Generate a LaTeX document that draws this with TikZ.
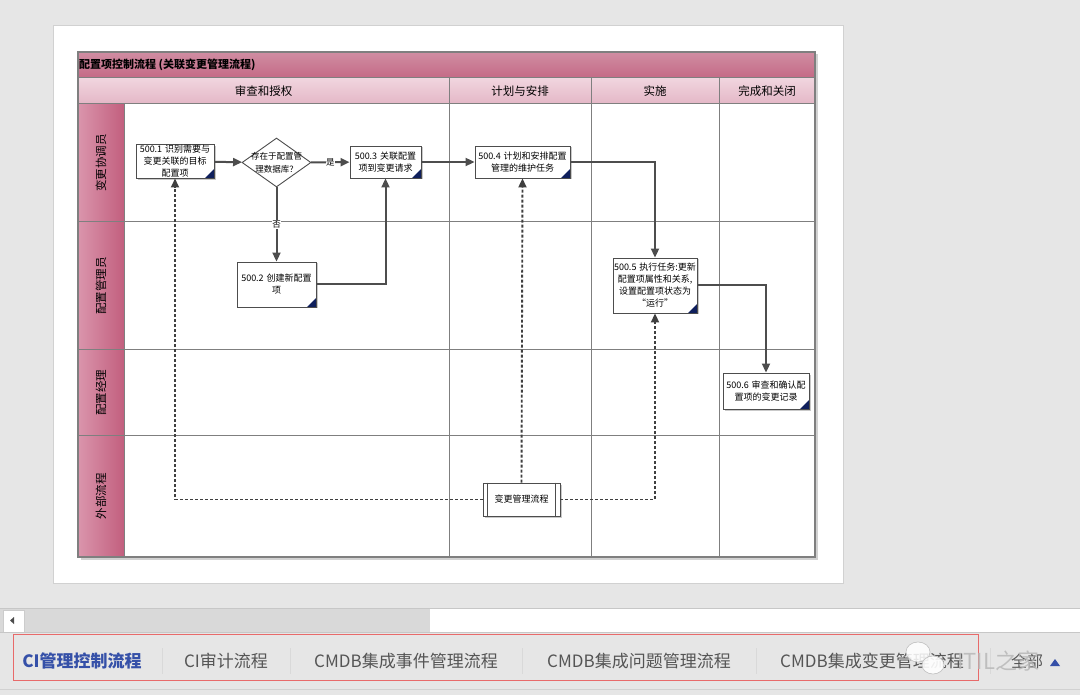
\documentclass[tikz,border=0pt]{standalone}
\usepackage{fontspec}
\setmainfont{Noto Sans CJK SC}
\usetikzlibrary{arrows.meta,shapes.geometric,shadows}
\definecolor{bgui}{HTML}{E6E6E6}
\definecolor{titletop}{HTML}{D08DA2}
\definecolor{titlebot}{HTML}{C46A86}
\definecolor{hdrtop}{HTML}{F1D5DF}
\definecolor{hdrbot}{HTML}{E4B7C6}
\definecolor{lanel}{HTML}{DA95AC}
\definecolor{laner}{HTML}{C25F7E}
\definecolor{gridc}{HTML}{7F7F7F}
\definecolor{linec}{HTML}{4D4D4D}
\definecolor{dashc}{HTML}{3F3F3F}
\definecolor{navy}{HTML}{0F1F5C}
\definecolor{tabtxt}{HTML}{555555}
\definecolor{tabsel}{HTML}{3550A8}
\definecolor{redbox}{HTML}{E86A6A}
\tikzset{
  task/.style={draw=linec, line width=0.9pt, fill=white, align=center, inner sep=0.5pt,
    font=\fontsize{9}{12}\selectfont,
    drop shadow={shadow xshift=1.5pt, shadow yshift=-1.5pt, fill=black!35, opacity=0.6},
    path picture={\fill[navy] (path picture bounding box.south east) -- ++(-9pt,0pt) -- ++(9pt,9pt) -- cycle;}},
  decide/.style={diamond, draw=linec, line width=0.9pt, fill=white, inner sep=0pt},
  decidetext/.style={align=center, inner sep=0pt, font=\fontsize{8.5}{13}\selectfont},
  subproc/.style={draw=linec, line width=0.9pt, fill=white, align=center, inner sep=1pt,
    font=\fontsize{9}{12}\selectfont,
    drop shadow={shadow xshift=1.5pt, shadow yshift=-1.5pt, fill=black!35, opacity=0.6}},
  flow/.style={draw=linec, line width=2pt, -{Triangle[length=9pt,width=8pt]}},
  msg/.style={draw=dashc, line width=1.9pt, dash pattern=on 3pt off 2pt, -{Triangle[length=9pt,width=8pt]}},
  lanelbl/.style={rotate=90, font=\fontsize{11.5}{11.5}\selectfont},
  phaselbl/.style={font=\fontsize{11.5}{11.5}\selectfont},
  tab/.style={font=\fontsize{17}{17}\selectfont, text=tabtxt},
  edgelbl/.style={fill=white, inner sep=0.5pt, font=\fontsize{8.5}{8.5}\selectfont},
}
\begin{document}
\begin{tikzpicture}[x=1pt,y=-1pt]
\useasboundingbox (0,0) rectangle (1080,695);
% UI background
\fill[bgui] (0,0) rectangle (1080,695);
\fill[white] (53,25) rectangle (843,583);
\draw[black!18, line width=0.8pt] (53,25) rectangle (843,583);
% diagram frame with shadow
\fill[black!18] (80.5,54.5) rectangle (817.5,559.5);
\fill[white] (78,52) rectangle (815,557);
% title bar
\shade[top color=titletop, bottom color=titlebot] (78,52) rectangle (815,78);
\node[anchor=west, inner sep=1pt, font=\bfseries\fontsize{11}{11}\selectfont] (title) at (78,65) {配置项控制流程 (关联变更管理流程)};
% phase header
\shade[top color=hdrtop, bottom color=hdrbot] (78,78) rectangle (815,104);
% lane label column
\shade[left color=lanel, right color=laner] (78,104) rectangle (124,557);
% grid
\foreach \gy in {78,104,222,350,435} \draw[gridc, line width=1pt] (78,\gy) -- (815,\gy);
\draw[gridc, line width=1pt] (124,104) -- (124,557);
\foreach \gx in {449,591,719} \draw[gridc, line width=1pt] (\gx,78) -- (\gx,557);
\draw[gridc, line width=1.1pt] (78,52) rectangle (815,557);
% phase labels
\node[phaselbl] (ph1) at (263.5,91) {审查和授权};
\node[phaselbl] (ph2) at (520,91) {计划与安排};
\node[phaselbl] (ph3) at (655,91) {实施};
\node[phaselbl] (ph4) at (767,91) {完成和关闭};
% lane labels
\node[lanelbl] (ln1) at (101,163) {变更协调员};
\node[lanelbl] (ln2) at (101,286) {配置管理员};
\node[lanelbl] (ln3) at (101,392.5) {配置经理};
\node[lanelbl] (ln4) at (101,496) {外部流程};
% nodes
\node[task, minimum width=78pt, minimum height=33pt, text width=77pt] (n1) at (175,161.5) {500.1 识别需要与\\变更关联的目标\\配置项};
\node[decide, minimum width=69pt, minimum height=49pt] (dia) at (276.5,162.5) {};
\node[decidetext] (diatext) at (276.5,162.5) {存在于配置管\\理数据库？};
\node[task, minimum width=71pt, minimum height=32pt, text width=70pt] (n3) at (385.5,162) {500.3 关联配置\\项到变更请求};
\node[task, minimum width=95pt, minimum height=32pt, text width=94pt] (n4) at (522.5,162) {500.4 计划和安排配置\\管理的维护任务};
\node[task, minimum width=79pt, minimum height=45pt, text width=78pt] (n2) at (276.5,284.5) {500.2 创建新配置\\项};
\node[task, minimum width=84pt, minimum height=55pt, text width=83pt] (n5) at (655,285.5) {500.5 执行任务:更新\\配置项属性和关系,\\设置配置项状态为\\“运行”};
\node[task, minimum width=86pt, minimum height=36pt, text width=85pt] (n6) at (766,391) {500.6 审查和确认配\\置项的变更记录};
\node[subproc, minimum width=77pt, minimum height=33pt] (ext) at (521.5,499.5) {变更管理流程};
\draw[linec, line width=0.9pt] ([xshift=5pt]ext.north west) -- ([xshift=5pt]ext.south west);
\draw[linec, line width=0.9pt] ([xshift=-5pt]ext.north east) -- ([xshift=-5pt]ext.south east);
% connectors
\draw[flow] (n1) -- (dia);
\draw[flow] (dia) -- node[edgelbl, pos=0.5] (yes) {是} (n3);
\draw[flow] (dia) -- node[edgelbl, pos=0.5] (no) {否} (n2);
\draw[flow] (n2.east) -| (n3.south);
\draw[flow] (n3) -- (n4);
\draw[flow] (n4.east) -| (n5.north);
\draw[flow] (n5.east) -| (n6.north);
\draw[msg] (ext.west) -| (n1.south);
\draw[msg] (ext.north) -- (n4.south);
\draw[msg] (ext.east) -| (n5.south);
% scrollbar
\fill[black!15] (0,609) rectangle (1080,632);
\fill[white] (430,609) rectangle (1080,632);
\fill[white] (3,610) rectangle (24,632);
\draw[black!20, line width=0.6pt] (3,610) rectangle (24,632);
\fill[black!70] (10,620.5) -- (14,617) -- (14,624) -- cycle;
\draw[black!22, line width=0.6pt] (0,608.5) -- (1080,608.5);
\draw[black!22, line width=0.6pt] (0,632.5) -- (1080,632.5);
\draw[black!18, line width=0.8pt] (0,689) -- (1080,689);
% tabs
\draw[redbox, line width=0.9pt] (13,634) rectangle (978,680);
\node[tab, text=tabsel, font=\bfseries\fontsize{17}{17}\selectfont] (t1) at (82,661) {CI管理控制流程};
\node[tab] (t2) at (226,661) {CI审计流程};
\node[tab] (t3) at (406,661) {CMDB集成事件管理流程};
\node[tab] (t4) at (639,661) {CMDB集成问题管理流程};
\node[tab] (t5) at (872,661) {CMDB集成变更管理流程};
\node[tab, font=\fontsize{16}{16}\selectfont] (t6) at (1027,661) {全部};
\fill[tabsel] (1050,666) -- (1060,666) -- (1055,659) -- cycle;
\foreach \sx in {162,290,522,756,990} \draw[black!15, line width=0.8pt] (\sx,648) -- (\sx,674);
% watermark
\fill[white, opacity=0.85] (918,652) ellipse (12pt and 10pt);
\draw[black!25, line width=0.6pt] (918,652) ellipse (12pt and 10pt);
\fill[white, opacity=0.9] (933,665) ellipse (11pt and 9pt);
\draw[black!25, line width=0.6pt] (933,665) ellipse (11pt and 9pt);
\node[font=\fontsize{22}{22}\selectfont, text=black!28, opacity=0.85] (wm) at (998,661) {ITIL之家};
\end{tikzpicture}
\end{document}
